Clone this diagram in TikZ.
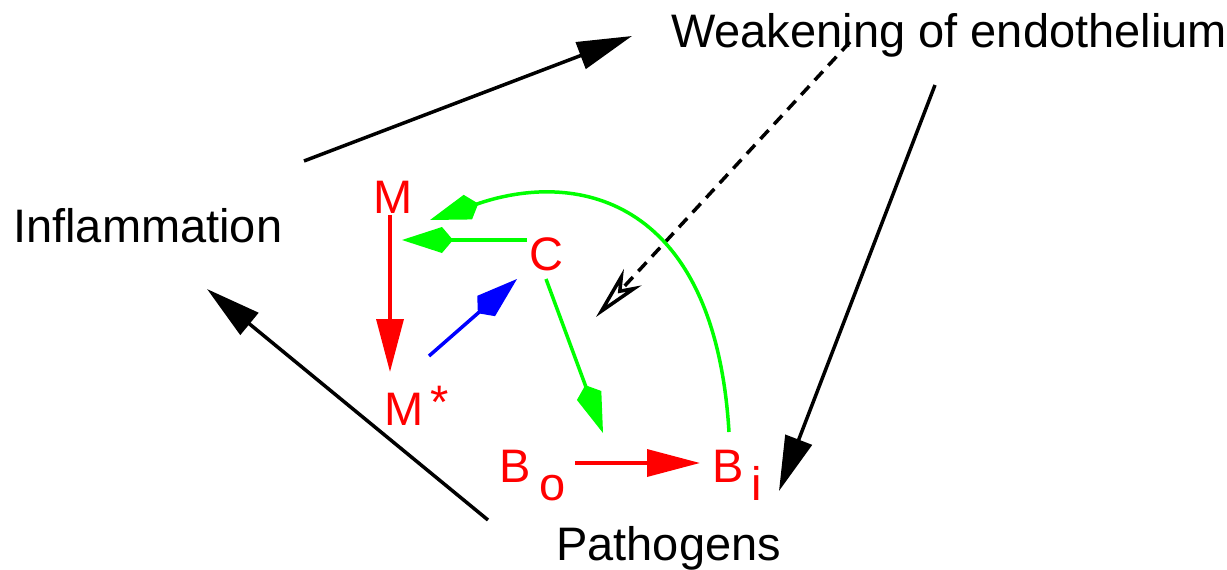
\documentclass[tikz,border=0pt]{standalone}
\usepackage{fontspec}
\setmainfont{Liberation Sans}
\usetikzlibrary{arrows.meta}
\tikzset{
  lbl/.style={font=\fontsize{47}{50}\selectfont, inner sep=0pt, anchor=base west},
  rlbl/.style={lbl, text=red},
  blkarrow/.style={draw=black, line width=3.5pt, -{Triangle[length=55pt,width=28pt]}},
  redarrow/.style={draw=red, line width=3.5pt, -{Triangle[length=53pt,width=27pt]}},
  grnarrow/.style={draw=green, line width=3.5pt, -{Kite[length=51pt,width=26pt,inset=11pt]}},
  bluarrow/.style={draw=blue, line width=3.5pt, -{Kite[length=52pt,width=27pt,inset=11pt]}},
  dasharrow/.style={draw=black, line width=3.5pt, dash pattern=on 12pt off 8pt, -{Stealth[open,length=54pt,width=24pt,inset=16pt,line width=3.5pt]}}
}
\begin{document}
\begin{tikzpicture}[x=1pt,y=-1pt]
\useasboundingbox (0,0) rectangle (1227,570);
% text nodes
\node[lbl] (weak) at (671,47) {Weakening of endothelium};
\node[lbl] (infl) at (13,242) {Inflammation};
\node[lbl] (path) at (556,560) {Pathogens};
\node[rlbl] (M) at (373,213) {M};
\node[rlbl] (C) at (529,270) {C};
\node[rlbl] (Ms) at (384,425) {M};
\node[rlbl] (star) at (430,418) {*};
\node[rlbl] (Bo) at (499,482) {B};
\node[rlbl] (o) at (539,500) {o};
\node[rlbl] (Bi) at (712,482) {B};
\node[rlbl] (i) at (751,500) {i};
% connector end points
\coordinate (a1) at (304,161);  \coordinate (a2) at (632,36);
\coordinate (b1) at (488,520);  \coordinate (b2) at (207,289);
\coordinate (c1) at (935,85);   \coordinate (c2) at (779,491);
\coordinate (d1) at (850,42);   \coordinate (d2) at (596,317);
\coordinate (e1) at (390,215);  \coordinate (e2) at (390,372);
\coordinate (f1) at (575,463);  \coordinate (f2) at (700,463);
\coordinate (g1) at (527,240);  \coordinate (g2) at (402,240);
\coordinate (h1) at (729,432);  \coordinate (h2) at (480,203); \coordinate (h3) at (430,220);
\coordinate (k1) at (429,356);  \coordinate (k2) at (517,279);
\coordinate (m1) at (546,279);  \coordinate (m2) at (603,433);
% black arrows
\draw[blkarrow] (a1) -- (a2);
\draw[blkarrow] (b1) -- (b2);
\draw[blkarrow] (c1) -- (c2);
\draw[dasharrow] (d1) -- (d2);
% red arrows
\draw[redarrow] (e1) -- (e2);
\draw[redarrow] (f1) -- (f2);
% green arrows
\draw[grnarrow] (g1) -- (g2);
\draw[grnarrow] (h1) .. controls (715,200) and (580,170) .. (h2) -- (h3);
\draw[grnarrow] (m1) -- (m2);
% blue arrow
\draw[bluarrow] (k1) -- (k2);
\end{tikzpicture}
\end{document}
